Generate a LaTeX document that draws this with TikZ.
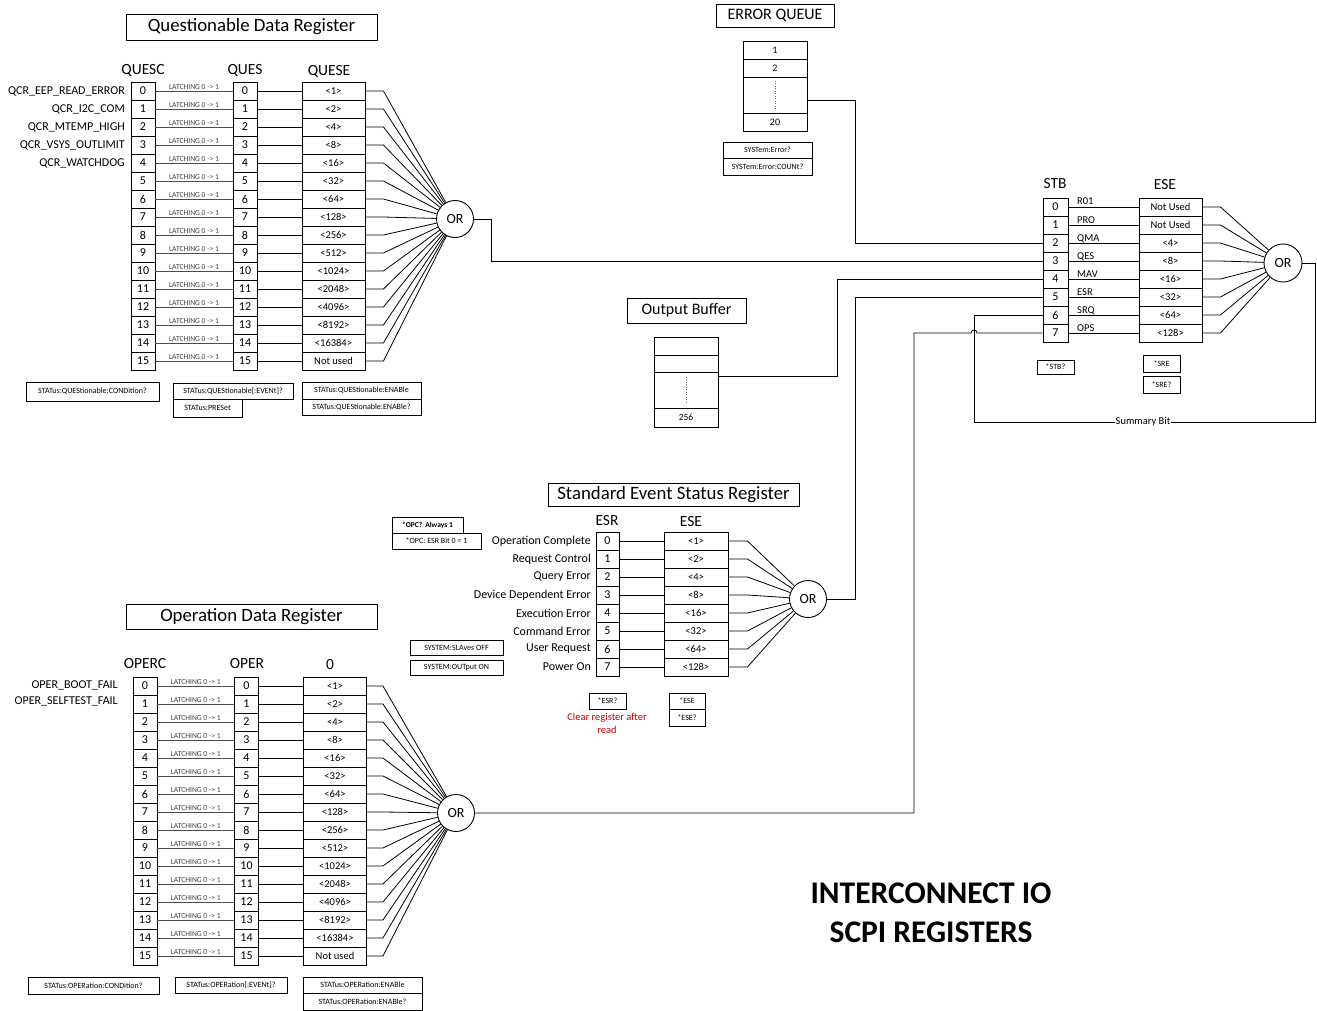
\documentclass[tikz,border=0pt]{standalone}
\usepackage{fontspec}
\setmainfont{Carlito}
\begin{document}
\begin{tikzpicture}[x=1pt,y=-1pt,
  cell/.style={draw, line width=0.9pt, inner sep=0pt, minimum height=18pt, font=\fontsize{12}{12}\selectfont},
  nc/.style={cell, minimum width=24pt},
  ec/.style={cell, minimum width=63pt, font=\fontsize{10.5}{10.5}\selectfont},
  orc/.style={circle, draw, line width=0.9pt, minimum size=37pt, inner sep=0pt, font=\fontsize{14}{14}\selectfont},
  hdr/.style={inner sep=0pt, font=\fontsize{15.5}{15.5}\selectfont},
  ttl/.style 2 args={draw, line width=0.9pt, inner sep=0pt, minimum width=#1pt, minimum height=#2pt, font=\fontsize{18.8}{18.8}\selectfont},
  lab/.style={anchor=east, inner sep=2pt, font=\fontsize{12}{12}\selectfont},
  latch/.style={inner sep=1pt, text=black!75, font=\fontsize{7.6}{7.6}\selectfont},
  qb/.style 2 args={draw, line width=0.8pt, inner sep=0pt, minimum width=#1pt, minimum height=#2pt, font=\fontsize{8}{8}\selectfont},
  wire/.style={line width=0.8pt},
  lwire/.style={line width=0.9pt, draw=black!70},
  stk/.style 2 args={draw, line width=0.9pt, inner sep=0pt, minimum width=#1pt, minimum height=#2pt, font=\fontsize{10}{10}\selectfont},
]
\useasboundingbox (0,0) rectangle (1317,1011);

% ================= Questionable Data Register =================
\node[ttl={251}{26}] (qtitle) at (251.5,27) {Questionable Data Register};
\node[hdr] (qh1) at (143,70) {QUESC};
\node[hdr] (qh2) at (245,70) {QUES};
\node[hdr] (qh3) at (329,71) {QUESE};
\node[orc] (qor) at (455,219) {OR};
\foreach \i/\t in {0/<1>,1/<2>,2/<4>,3/<8>,4/<16>,5/<32>,6/<64>,7/<128>,8/<256>,9/<512>,10/<1024>,11/<2048>,12/<4096>,13/<8192>,14/<16384>,15/Not used} {
  \node[nc] (qc\i) at (143,91+18*\i) {\i};
  \node[nc] (qs\i) at (245,91+18*\i) {\i};
  \node[ec] (qe\i) at (333.5,91+18*\i) {\t};
  \draw[lwire] (qc\i.east) -- node[latch, above] {LATCHING 0 -> 1} (qs\i.west);
  \draw[wire] (qs\i.east) -- (qe\i.west);
  \draw[wire] (qe\i.east) -- ++(18,0) -- (qor);
}
\foreach \i/\t in {0/QCR\_EEP\_READ\_ERROR,1/QCR\_I2C\_COM,2/QCR\_MTEMP\_HIGH,3/QCR\_VSYS\_OUTLIMIT,4/QCR\_WATCHDOG} {
  \node[lab] (ql\i) at (127,91+18*\i) {\t};
}
\node[qb={133}{19}] (qq1) at (92.5,391.5) {STATus:QUEStionable:CONDition?};
\node[qb={120}{16}] (qq2) at (233,391) {STATus:QUEStionable[:EVENt]?};
\node[qb={69}{18}] (qq3) at (207.5,408) {STATus:PRESet};
\node[qb={119}{17}] (qq4) at (361.5,390.5) {STATus:QUEStionable:ENABle};
\node[qb={119}{16}] (qq5) at (361.5,407) {STATus:QUEStionable:ENABle?};

% ================= Operation Data Register =================
\node[ttl={251}{25}] (otitle) at (251.5,616.5) {Operation Data Register};
\node[hdr] (oh1) at (145,664) {OPERC};
\node[hdr] (oh2) at (247,664) {OPER};
\node[hdr] (oh3) at (330,665) {0};
\node[orc] (oor) at (456,813) {OR};
\foreach \i/\t in {0/<1>,1/<2>,2/<4>,3/<8>,4/<16>,5/<32>,6/<64>,7/<128>,8/<256>,9/<512>,10/<1024>,11/<2048>,12/<4096>,13/<8192>,14/<16384>,15/Not used} {
  \node[nc] (oc\i) at (145,686+18*\i) {\i};
  \node[nc] (os\i) at (246.5,686+18*\i) {\i};
  \node[ec] (oe\i) at (335,686+18*\i) {\t};
  \draw[lwire] (oc\i.east) -- node[latch, above] {LATCHING 0 -> 1} (os\i.west);
  \draw[wire] (os\i.east) -- (oe\i.west);
  \draw[wire] (oe\i.east) -- ++(16,0) -- (oor);
}
\node[lab] (ol0) at (120,685) {OPER\_BOOT\_FAIL};
\node[lab] (ol1) at (120,701) {OPER\_SELFTEST\_FAIL};
\node[qb={131}{17}] (oq1) at (93.5,985.5) {STATus:OPERation:CONDition?};
\node[qb={112}{16}] (oq2) at (231,985) {STATus:OPERation[:EVENt]?};
\node[qb={119}{16}] (oq3) at (362.5,985) {STATus:OPERation:ENABle};
\node[qb={119}{17}] (oq4) at (362.5,1001.5) {STATus:OPERation:ENABle?};

% ================= Error queue =================
\node[ttl={118}{23}, font=\fontsize{16}{16}\selectfont] (eqt) at (775,15.5) {ERROR QUEUE};
\node[stk={64}{18}] (eq1) at (775,50) {1};
\node[stk={64}{18}] (eq2) at (775,68) {2};
\node[stk={64}{36}] (eqd) at (775,95) {};
\node[stk={64}{18}] (eq20) at (775,122) {20};
\draw[dotted, line width=0.5pt, black!60] (eqd.north) ++(0,4) -- ++(0,28);
\node[qb={89}{16}] (eqq1) at (767.5,150) {SYSTem:Error?};
\node[qb={89}{17}] (eqq2) at (767.5,166.5) {SYSTem:Error:COUNt?};

% ================= Output buffer =================
\node[ttl={119}{25}, font=\fontsize{16}{16}\selectfont] (obt) at (686.5,310.5) {Output Buffer};
\node[stk={64}{18}] (ob1) at (686,346) {};
\node[stk={64}{17}] (ob2) at (686,363.5) {};
\node[stk={64}{36}] (obd) at (686,390) {};
\node[stk={64}{19}, font=\fontsize{9.5}{9.5}\selectfont] (ob256) at (686,417.5) {256};
\draw[dotted, line width=0.5pt, black!60] (obd.north) ++(0,5) -- ++(0,26);

% ================= STB / ESE =================
\node[hdr] (sh1) at (1055,184) {STB};
\node[hdr] (sh2) at (1165,185) {ESE};
\node[orc, minimum size=38pt] (sor) at (1283,263) {OR};
\foreach \i/\l/\t in {0/R01/Not Used,1/PRO/Not Used,2/QMA/<4>,3/QES/<8>,4/MAV/<16>,5/ESR/<32>,6/SRQ/<64>,7/OPS/<128>} {
  \node[nc, minimum width=25pt] (stb\i) at (1055.5,207+18*\i) {\i};
  \node[ec] (se\i) at (1170.5,207+18*\i) {\t};
  \draw[wire] (stb\i.east) -- (se\i.west);
  \node[anchor=base west, inner sep=0pt, font=\fontsize{10.5}{10.5}\selectfont] (sl\i) at (1077,205+18*\i) {\l};
  \draw[wire] (se\i.east) -- ++(18,0) -- (sor);
}
\node[qb={37}{14}] (stq) at (1055.5,367) {*STB?};
\node[qb={37}{17}] (srq1) at (1161.5,363.5) {*SRE};
\node[qb={37}{17}] (srq2) at (1161.5,384.5) {*SRE?};

% ================= Standard Event Status Register =================
\node[ttl={251}{23}] (etitle) at (673.5,494.5) {Standard Event Status Register};
\node[hdr] (eh1) at (607,521) {ESR};
\node[hdr] (eh2) at (691,522) {ESE};
\node[orc] (eor) at (808,599) {OR};
\foreach \i/\l/\t in {0/Operation Complete/<1>,1/Request Control/<2>,2/Query Error/<4>,3/Device Dependent Error/<8>,4/Execution Error/<16>,5/Command Error/<32>,6/User Request/<64>,7/Power On/<128>} {
  \node[nc, minimum width=23pt] (esr\i) at (607.5,541+18*\i) {\i};
  \node[ec, minimum width=64pt] (ee\i) at (696,541+18*\i) {\t};
  \draw[wire] (esr\i.east) -- (ee\i.west);
  \draw[wire] (ee\i.east) -- ++(19,0) -- (eor);
  \node[lab] (el\i) at (593,541+18*\i) {\l};
}
\node[qb={71}{16}, font=\bfseries\fontsize{7.5}{7.5}\selectfont] (opc1) at (427.5,525) {*OPC?\, Always 1};
\node[qb={89}{16}] (opc2) at (436.5,541) {*OPC: ESR Bit 0 = 1};
\node[qb={93}{15}] (sys1) at (456.5,647.5) {SYSTEM:SLAves OFF};
\node[qb={93}{15}] (sys2) at (456.5,667.5) {SYSTEM:OUTput ON};
\node[qb={37}{16}] (esq) at (607.5,701) {*ESR?};
\node[qb={36}{16}] (eseq1) at (687,701) {*ESE};
\node[qb={36}{17}] (eseq2) at (687,717.5) {*ESE?};
\node[inner sep=0pt, text=red!80!black, align=center, font=\fontsize{10.5}{13}\selectfont] (clr) at (607,723.5) {Clear register after\\read};

% ================= Connections into STB =================
\draw[wire] (qor.east) -- ++(17,0) |- (stb3.west);
\draw[wire] ([yshift=-5pt]eqd.east) -- ++(48,0) |- (stb2.west);
\draw[wire] ([yshift=14pt]obd.east) -- ++(119,0) |- (stb4.west);
\draw[wire] (eor.east) -- ++(28,0) |- (stb5.west);
\coordinate (sumc) at (974,422);
\draw[wire] (sor.east) -- ++(13,0) |- (sumc) |- (stb6.west);
\node[fill=white, inner sep=0.5pt, font=\fontsize{10.5}{10.5}\selectfont] (sbit) at (1143,422) {Summary Bit};
\coordinate (hop) at (914,333);
\draw[wire] (oor.east) -| (hop) -- (971,333) arc (180:0:3pt) -- (stb7.west);

% ================= Big title =================
\node[inner sep=0pt, font=\bfseries\fontsize{31.5}{31.5}\selectfont] (big1) at (931,893) {INTERCONNECT IO};
\node[inner sep=0pt, font=\bfseries\fontsize{31.5}{31.5}\selectfont] (big2) at (931,932) {SCPI REGISTERS};
\end{tikzpicture}
\end{document}
